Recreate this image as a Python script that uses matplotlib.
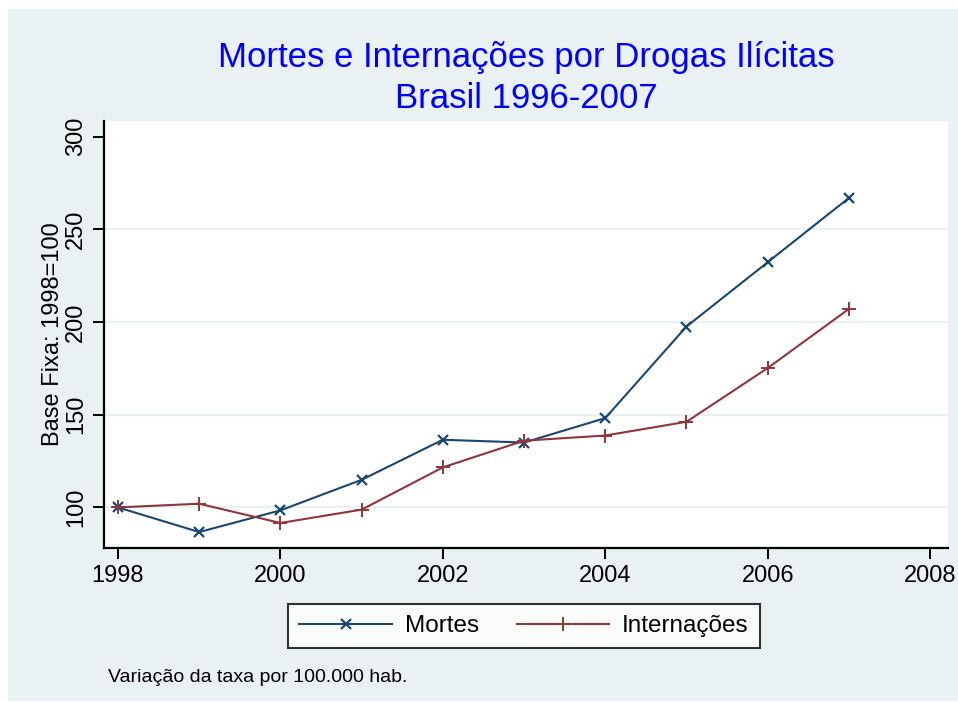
import matplotlib.pyplot as plt
from matplotlib.patches import Rectangle

plt.rcParams['font.family'] = ['Liberation Sans', 'DejaVu Sans']

# dados (base fixa 1998 = 100)
anos = [1998, 1999, 2000, 2001, 2002, 2003, 2004, 2005, 2006, 2007]
mortes = [100.0, 86.7, 98.4, 114.9, 136.5, 135.0, 148.2, 197.6, 232.3, 267.0]
internacoes = [100.0, 102.0, 91.6, 98.8, 121.6, 136.0, 138.8, 146.2, 175.2, 207.1]
yticks = [100, 150, 200, 250, 300]
xticks = [1998, 2000, 2002, 2004, 2006, 2008]

W, H = 958, 702
fig = plt.figure(figsize=(W / 100, H / 100), dpi=100)
fig.patch.set_facecolor('white')

# fundo cinza-azulado estilo Stata
bg = '#eaf1f3'
fig.patches.append(Rectangle((8 / W, 1 - 701 / H), 1 - 8 / W, (701 - 9) / H,
                             transform=fig.transFigure, facecolor=bg,
                             edgecolor='none', zorder=-10))

ax = fig.add_axes([104 / W, 1 - 548 / H, (948 - 104) / W, (548 - 121) / H])
ax.set_facecolor('white')

ax.plot(anos, mortes, color='#1a476f', lw=1.5, marker='x', ms=6.5, mew=1.6,
        label='Mortes', zorder=3)
ax.plot(anos, internacoes, color='#90353b', lw=1.5, marker='+', ms=10, mew=1.4,
        label='Internações', zorder=3)

ax.set_xlim(1997.828, 2008.22)
ax.set_ylim(78.1, 308.5)
ax.set_xticks(xticks)
ax.set_yticks(yticks)
for y in yticks[:-1]:
    ax.axhline(y, color=bg, lw=1.6, zorder=1)

for s in ['top', 'right']:
    ax.spines[s].set_visible(False)
for s in ['left', 'bottom']:
    ax.spines[s].set_linewidth(1.6)
ax.tick_params(axis='both', length=8, width=1.4, labelsize=17, pad=4)
for lab in ax.get_yticklabels():
    lab.set_rotation(90)
    lab.set_va('center')

ax.set_ylabel('Base Fixa: 1998=100', fontsize=17, labelpad=1)

fig.text(526 / W, 1 - 57 / H, 'Mortes e Internações por Drogas Ilícitas',
         color='#0000ff', fontsize=25, ha='center', va='center')
fig.text(526 / W, 1 - 98 / H, 'Brasil 1996-2007',
         color='#0000ff', fontsize=25, ha='center', va='center')

leg = fig.legend(loc='center', bbox_to_anchor=(524 / W, 1 - 626 / H), ncol=2,
                 fontsize=17.5, frameon=True, fancybox=False, handlelength=3.8,
                 handletextpad=0.53, columnspacing=1.56, borderpad=0.45)
leg.get_frame().set_edgecolor('black')
leg.get_frame().set_linewidth(1.5)

fig.text(108 / W, 1 - 677 / H, 'Variação da taxa por 100.000 hab.',
         fontsize=14, ha='left', va='center')

fig.savefig('out.png', dpi=100)
